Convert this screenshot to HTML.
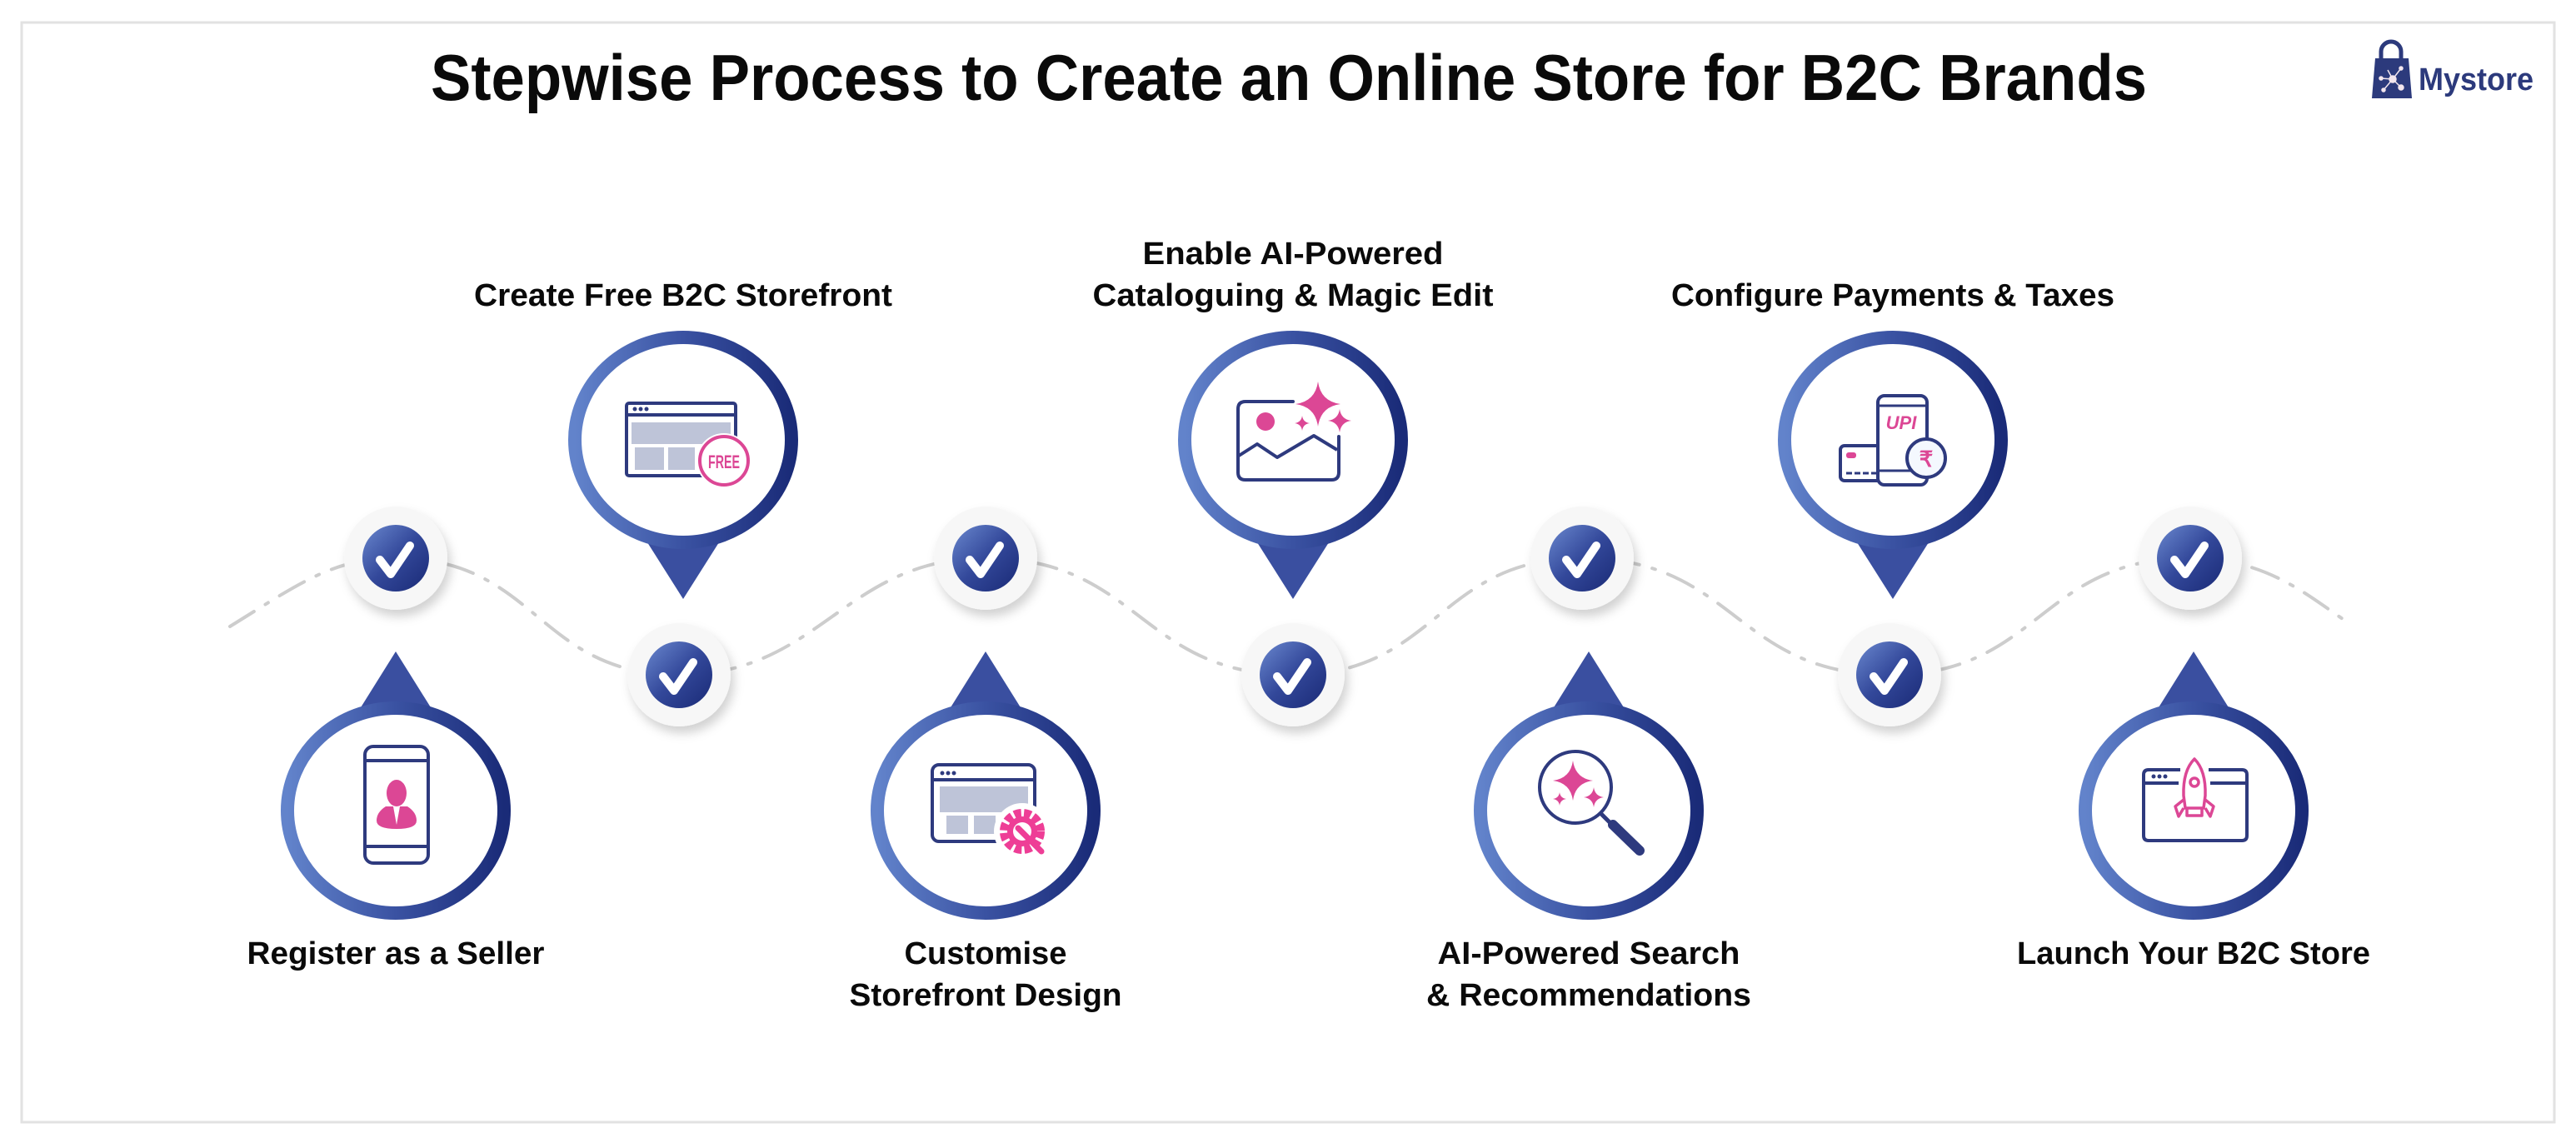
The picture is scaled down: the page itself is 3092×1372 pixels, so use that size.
<!DOCTYPE html>
<html><head><meta charset="utf-8"><style>
html,body{margin:0;padding:0;background:#fff;}
svg{display:block;}
text{font-family:"Liberation Sans",sans-serif;font-weight:bold;fill:#0a0a0a;}
</style></head><body>
<svg width="3092" height="1372" viewBox="0 0 3092 1372" xmlns="http://www.w3.org/2000/svg">
<defs>
<linearGradient id="rg" x1="0" y1="0" x2="1" y2="0">
<stop offset="0" stop-color="#6283cb"/><stop offset="0.5" stop-color="#3a52a2"/><stop offset="1" stop-color="#1a2b78"/>
</linearGradient>
<linearGradient id="bg" x1="0" y1="0" x2="1" y2="1">
<stop offset="0" stop-color="#6a88cf"/><stop offset="0.5" stop-color="#33489a"/><stop offset="1" stop-color="#1a2a76"/>
</linearGradient>
<filter id="sh" x="-30%" y="-30%" width="160%" height="170%">
<feDropShadow dx="4" dy="8" stdDeviation="6" flood-color="#000" flood-opacity="0.18"/>
</filter>
<g id="badge">
<circle r="62" fill="#f7f7f7" filter="url(#sh)"/>
<circle r="40" fill="url(#bg)"/>
<path d="M-19,2 L-6,19 L17,-15" fill="none" stroke="#fff" stroke-width="10" stroke-linecap="round" stroke-linejoin="round"/>
</g>
<path id="star" d="M0,-1 Q0.12,-0.12 1,0 Q0.12,0.12 0,1 Q-0.12,0.12 -1,0 Q-0.12,-0.12 0,-1Z"/>
</defs>
<rect x="0" y="0" width="3092" height="1372" fill="#fff"/>
<rect x="26" y="27" width="3040" height="1320" fill="none" stroke="#e2e2e2" stroke-width="3"/>

<!-- title -->
<text x="1547" y="120" font-size="78" text-anchor="middle" textLength="2060" lengthAdjust="spacingAndGlyphs">Stepwise Process to Create an Online Store for B2C Brands</text>

<!-- logo -->
<g>
<path d="M2858,70 v-8 a12,12 0 0 1 24,0 v8" fill="none" stroke="#2c3a7c" stroke-width="5"/>
<path d="M2851,70 L2891,70 L2895,118 L2847,118 Z" fill="#2c3a7c"/>
<g stroke="#f3e6ee" stroke-width="1.5" fill="#f3e6ee">
<line x1="2872" y1="95" x2="2882" y2="82"/><line x1="2872" y1="95" x2="2858" y2="94"/><line x1="2872" y1="95" x2="2882" y2="105"/><line x1="2872" y1="95" x2="2861" y2="108"/><line x1="2872" y1="95" x2="2866" y2="84"/>
<circle cx="2872" cy="95" r="4"/><circle cx="2882" cy="82" r="2"/><circle cx="2858" cy="94" r="2"/><circle cx="2882" cy="105" r="3"/><circle cx="2861" cy="108" r="2"/>
</g>
<text x="2903" y="108" font-size="38" fill="#2c3a7c" style="fill:#2c3a7c" textLength="138" lengthAdjust="spacingAndGlyphs">Mystore</text>
</g>

<!-- wave -->
<path d="M276,752 C360,700 400,670 475,670 C645,670 645,810 815,810 C985,810 1013,670 1183,670 C1368,670 1368,810 1552,810 C1725,810 1725,670 1899,670 C2083,670 2083,810 2268,810 C2448,810 2448,670 2629,670 C2720,670 2770,715 2815,745" fill="none" stroke="#cdcdcd" stroke-width="4" stroke-dasharray="34 16 4 16" stroke-linecap="round"/>

<!-- top pins -->
<g>
<polygon points="770,640 870,640 820,719" fill="#3a4fa0"/>
<ellipse cx="820" cy="528" rx="130" ry="123" fill="#fff" stroke="url(#rg)" stroke-width="16"/>
<polygon points="1502,640 1602,640 1552,719" fill="#3a4fa0"/>
<ellipse cx="1552" cy="528" rx="130" ry="123" fill="#fff" stroke="url(#rg)" stroke-width="16"/>
<polygon points="2222,640 2322,640 2272,719" fill="#3a4fa0"/>
<ellipse cx="2272" cy="528" rx="130" ry="123" fill="#fff" stroke="url(#rg)" stroke-width="16"/>
</g>
<!-- bottom pins -->
<g>
<polygon points="425,862 525,862 475,782" fill="#3a4fa0"/>
<ellipse cx="475" cy="973" rx="130" ry="123" fill="#fff" stroke="url(#rg)" stroke-width="16"/>
<polygon points="1133,862 1233,862 1183,782" fill="#3a4fa0"/>
<ellipse cx="1183" cy="973" rx="130" ry="123" fill="#fff" stroke="url(#rg)" stroke-width="16"/>
<polygon points="1857,862 1957,862 1907,782" fill="#3a4fa0"/>
<ellipse cx="1907" cy="973" rx="130" ry="123" fill="#fff" stroke="url(#rg)" stroke-width="16"/>
<polygon points="2583,862 2683,862 2633,782" fill="#3a4fa0"/>
<ellipse cx="2633" cy="973" rx="130" ry="123" fill="#fff" stroke="url(#rg)" stroke-width="16"/>
</g>

<!-- badges -->
<use href="#badge" x="475" y="670"/>
<use href="#badge" x="1183" y="670"/>
<use href="#badge" x="1899" y="670"/>
<use href="#badge" x="2629" y="670"/>
<use href="#badge" x="815" y="810"/>
<use href="#badge" x="1552" y="810"/>
<use href="#badge" x="2268" y="810"/>

<!-- icon 1: phone with person -->
<g>
<rect x="438" y="896" width="76" height="140" rx="10" fill="none" stroke="#2e3a7e" stroke-width="4"/>
<line x1="438" y1="913" x2="514" y2="913" stroke="#2e3a7e" stroke-width="4"/>
<line x1="438" y1="1016" x2="514" y2="1016" stroke="#2e3a7e" stroke-width="4"/>
<ellipse cx="476" cy="952" rx="12" ry="16" fill="#dc4795"/>
<path d="M463,968 L489,968 Q500,975 500,985 Q500,995 476,995 Q452,995 452,985 Q452,975 463,968Z" fill="#dc4795"/>
<path d="M472,968 L476,990 L480,968Z" fill="#fff"/>
</g>

<!-- icon 2: browser FREE -->
<g>
<rect x="752" y="484" width="131" height="87" rx="3" fill="none" stroke="#2e3a7e" stroke-width="4"/>
<line x1="752" y1="498" x2="883" y2="498" stroke="#2e3a7e" stroke-width="4"/>
<circle cx="762" cy="491" r="2.5" fill="#2e3a7e"/><circle cx="769" cy="491" r="2.5" fill="#2e3a7e"/><circle cx="776" cy="491" r="2.5" fill="#2e3a7e"/>
<rect x="758" y="507" width="119" height="26" fill="#bec4d8"/>
<rect x="762" y="537" width="35" height="27" fill="#bec4d8"/>
<rect x="802" y="537" width="32" height="27" fill="#bec4d8"/>
<circle cx="869" cy="553" r="33" fill="#fff"/>
<circle cx="869" cy="553" r="29" fill="#fff" stroke="#dc4795" stroke-width="4"/>
<text x="869" y="562" font-size="22" text-anchor="middle" style="fill:#dc4795" textLength="38" lengthAdjust="spacingAndGlyphs">FREE</text>
</g>

<!-- icon 3: browser gear -->
<g>
<rect x="1119" y="918" width="123" height="92" rx="8" fill="none" stroke="#2e3a7e" stroke-width="4"/>
<line x1="1119" y1="936" x2="1242" y2="936" stroke="#2e3a7e" stroke-width="4"/>
<circle cx="1131" cy="928" r="2.5" fill="#2e3a7e"/><circle cx="1138" cy="928" r="2.5" fill="#2e3a7e"/><circle cx="1145" cy="928" r="2.5" fill="#2e3a7e"/>
<rect x="1128" y="944" width="106" height="31" fill="#bec4d8"/>
<rect x="1136" y="979" width="26" height="22" fill="#bec4d8"/>
<rect x="1169" y="979" width="26" height="22" fill="#bec4d8"/>
<circle cx="1227" cy="998" r="34" fill="#fff"/>
<circle cx="1227" cy="998" r="21" fill="none" stroke="#ee3e96" stroke-width="12" stroke-dasharray="8 3.2"/>
<circle cx="1227" cy="998" r="18" fill="#ee3e96"/>
<circle cx="1227" cy="998" r="11" fill="#fff"/>
<line x1="1222" y1="994" x2="1250" y2="1022" stroke="#ee3e96" stroke-width="7" stroke-linecap="round"/>
</g>

<!-- icon 4: image + sparkles -->
<g>
<path d="M1552,482 L1495,482 Q1486,482 1486,491 L1486,567 Q1486,576 1495,576 L1598,576 Q1607,576 1607,567 L1607,524" fill="none" stroke="#2e3a7e" stroke-width="4" stroke-linecap="round"/>
<path d="M1487,547 L1509,533 L1533,549 L1577,523 L1605,540" fill="none" stroke="#2e3a7e" stroke-width="4" stroke-linejoin="round"/>
<circle cx="1519" cy="506" r="11" fill="#dc4795"/>
<use href="#star" transform="translate(1582,485) scale(27)" fill="#dc4795"/>
<use href="#star" transform="translate(1608,505) scale(14)" fill="#dc4795"/>
<use href="#star" transform="translate(1563,508) scale(9)" fill="#dc4795"/>
</g>

<!-- icon 5: magnifier sparkles -->
<g>
<circle cx="1891" cy="945" r="43" fill="none" stroke="#2e3a7e" stroke-width="4"/>
<line x1="1921" y1="976" x2="1932" y2="987" stroke="#2e3a7e" stroke-width="5"/>
<line x1="1936" y1="990" x2="1968" y2="1021" stroke="#2e3a7e" stroke-width="12" stroke-linecap="round"/>
<use href="#star" transform="translate(1888,937) scale(24)" fill="#dc4795"/>
<use href="#star" transform="translate(1913,957) scale(12)" fill="#dc4795"/>
<use href="#star" transform="translate(1872,959) scale(8)" fill="#dc4795"/>
</g>

<!-- icon 6: UPI phone + card + rupee -->
<g>
<rect x="2209" y="535" width="50" height="42" rx="5" fill="#fff" stroke="#2e3a7e" stroke-width="4"/>
<rect x="2216" y="543" width="12" height="7" rx="3" fill="#dc4795"/>
<line x1="2216" y1="568" x2="2252" y2="568" stroke="#2e3a7e" stroke-width="3" stroke-dasharray="7 3"/>
<rect x="2254" y="475" width="59" height="107" rx="8" fill="#fff" stroke="#2e3a7e" stroke-width="4"/>
<line x1="2254" y1="487" x2="2313" y2="487" stroke="#2e3a7e" stroke-width="3"/>
<line x1="2254" y1="565" x2="2313" y2="565" stroke="#2e3a7e" stroke-width="3"/>
<text x="2282" y="515" font-size="22" font-style="italic" text-anchor="middle" style="fill:#dc4795">UPI</text>
<circle cx="2312" cy="550" r="23" fill="#f4f8fe" stroke="#2e3a7e" stroke-width="4"/>
<text x="2312" y="560" font-size="26" text-anchor="middle" style="fill:#dc4795">₹</text>
</g>

<!-- icon 7: browser rocket -->
<g>
<path d="M2617,924 L2579,924 Q2573,924 2573,930 L2573,1003 Q2573,1009 2579,1009 L2691,1009 Q2697,1009 2697,1003 L2697,930 Q2697,924 2691,924 L2651,924" fill="none" stroke="#2e3a7e" stroke-width="4"/>
<line x1="2573" y1="940" x2="2615" y2="940" stroke="#2e3a7e" stroke-width="4"/>
<line x1="2653" y1="940" x2="2697" y2="940" stroke="#2e3a7e" stroke-width="4"/>
<circle cx="2585" cy="932" r="2.5" fill="#2e3a7e"/><circle cx="2592" cy="932" r="2.5" fill="#2e3a7e"/><circle cx="2599" cy="932" r="2.5" fill="#2e3a7e"/>
<g fill="none" stroke="#dc4795" stroke-width="3.5" stroke-linejoin="round">
<path d="M2634,911 Q2620,925 2621,955 L2623,970 L2645,970 L2647,955 Q2648,925 2634,911Z"/>
<circle cx="2634" cy="939" r="5"/>
<path d="M2621,960 L2611,968 L2615,980 L2621,970"/>
<path d="M2647,960 L2657,968 L2653,980 L2647,970"/>
<path d="M2625,970 L2625,979 L2643,979 L2643,970"/>
</g>
</g>

<!-- labels -->
<g font-size="38" text-anchor="middle">
<text x="820" y="367" textLength="502" lengthAdjust="spacingAndGlyphs">Create Free B2C Storefront</text>
<text x="1552" y="317" textLength="361" lengthAdjust="spacingAndGlyphs">Enable AI-Powered</text>
<text x="1552" y="367" textLength="481" lengthAdjust="spacingAndGlyphs">Cataloguing &amp; Magic Edit</text>
<text x="2272" y="367" textLength="532" lengthAdjust="spacingAndGlyphs">Configure Payments &amp; Taxes</text>
<text x="475" y="1157" textLength="357" lengthAdjust="spacingAndGlyphs">Register as a Seller</text>
<text x="1183" y="1157" textLength="195" lengthAdjust="spacingAndGlyphs">Customise</text>
<text x="1183" y="1207" textLength="327" lengthAdjust="spacingAndGlyphs">Storefront Design</text>
<text x="1907" y="1157" textLength="363" lengthAdjust="spacingAndGlyphs">AI-Powered Search</text>
<text x="1907" y="1207" textLength="390" lengthAdjust="spacingAndGlyphs">&amp; Recommendations</text>
<text x="2633" y="1157" textLength="424" lengthAdjust="spacingAndGlyphs">Launch Your B2C Store</text>
</g>
</svg>
</body></html>
